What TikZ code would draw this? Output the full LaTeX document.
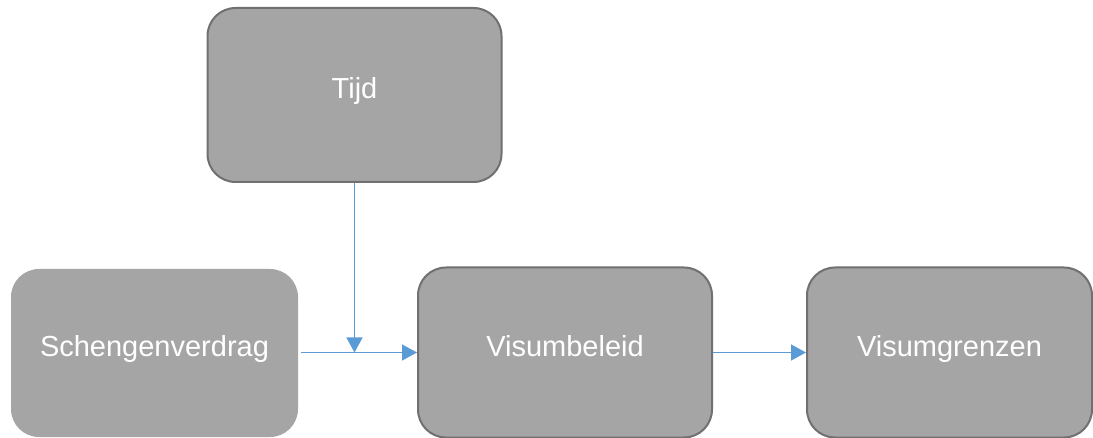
\documentclass[tikz,border=0pt]{standalone}
\usepackage{fontspec}
\setmainfont{Liberation Sans}
\usetikzlibrary{arrows.meta}
\definecolor{boxfill}{RGB}{165,165,165}
\definecolor{boxline}{RGB}{112,112,112}
\definecolor{arrowblue}{RGB}{91,155,213}
\tikzset{
  box/.style={rectangle, rounded corners=28pt, fill=boxfill, text=white,
    font=\fontsize{29pt}{34pt}\selectfont, text height=8pt, text depth=0pt,
    inner sep=0pt, anchor=center},
  boxborder/.style={box, draw=boxline, line width=2pt},
  conn/.style={draw=arrowblue, line width=1.4pt, -{Triangle[length=15pt,width=16pt]}}
}
\begin{document}
\begin{tikzpicture}[x=1pt,y=-1pt]
\useasboundingbox (0,0) rectangle (1093,438);
\clip (0,0) rectangle (1093,438);
\node[boxborder, minimum width=294pt, minimum height=174pt] (tijd) at (354.5,95) {Tijd};
\node[box, minimum width=287pt, minimum height=168pt] (schengen) at (154.5,353) {Schengenverdrag};
\node[boxborder, minimum width=294pt, minimum height=170pt] (beleid) at (565,352.5) {Visumbeleid};
\node[boxborder, minimum width=285pt, minimum height=170pt] (grenzen) at (949.5,352.5) {Visumgrenzen};
\coordinate (join) at (tijd.south |- beleid.west);
\draw[conn, shorten <=3pt] (schengen.east |- beleid.west) -- (beleid.west);
\draw[conn] (tijd.south) -- (join);
\draw[conn] (beleid.east) -- (grenzen.west);
\end{tikzpicture}
\end{document}
